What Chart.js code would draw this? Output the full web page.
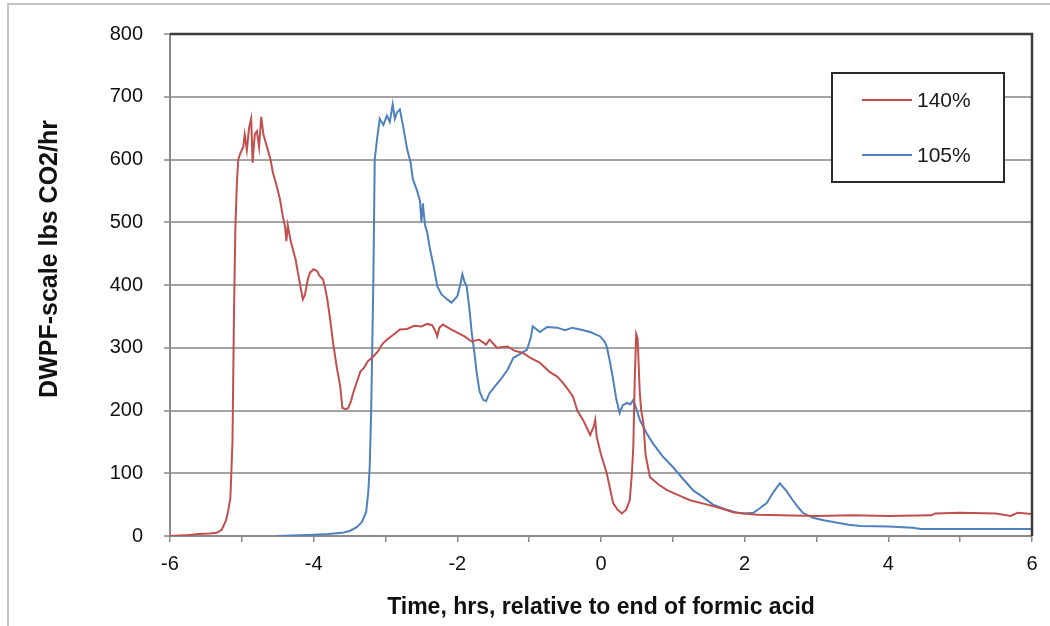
<!DOCTYPE html>
<html><head><meta charset="utf-8">
<script src="https://cdn.jsdelivr.net/npm/chart.js@4.4.0/dist/chart.umd.min.js"></script>
<style>html,body{margin:0;padding:0;background:#fff}#wrap{width:1050px;height:626px;position:relative}</style>
</head><body><div id="wrap"><canvas id="c" width="1050" height="626"></canvas></div>
<script>
const xTickLabels = [-6, -4, -2, 0, 2, 4, 6];
const yTickLabels = [0, 100, 200, 300, 400, 500, 600, 700, 800];
const seriesNames = ['140%', '105%'];
const xTitle = 'Time, hrs, relative to end of formic acid';
const yTitle = 'DWPF-scale lbs CO2/hr';

const redTimes = [-6.00,-5.80,-5.60,-5.45,-5.35,-5.28,-5.22,-5.19,-5.16,-5.13,-5.11,-5.09,-5.07,-5.05,-5.02,-4.98,-4.96,-4.93,-4.90,-4.87,-4.85,-4.82,-4.79,-4.76,-4.73,-4.70,-4.65,-4.60,-4.57,-4.52,-4.47,-4.43,-4.40,-4.38,-4.36,-4.32,-4.29,-4.25,-4.22,-4.18,-4.15,-4.12,-4.08,-4.05,-4.00,-3.95,-3.92,-3.87,-3.84,-3.81,-3.77,-3.73,-3.68,-3.63,-3.60,-3.55,-3.52,-3.48,-3.45,-3.40,-3.35,-3.30,-3.25,-3.17,-3.10,-3.05,-2.98,-2.90,-2.80,-2.70,-2.60,-2.50,-2.42,-2.35,-2.30,-2.28,-2.25,-2.20,-2.10,-2.00,-1.90,-1.80,-1.70,-1.60,-1.55,-1.45,-1.30,-1.20,-1.09,-1.00,-0.85,-0.72,-0.61,-0.53,-0.45,-0.39,-0.33,-0.25,-0.15,-0.10,-0.08,-0.06,0.00,0.08,0.17,0.23,0.29,0.35,0.40,0.43,0.45,0.47,0.49,0.51,0.54,0.56,0.59,0.62,0.68,0.80,0.92,1.10,1.24,1.48,1.70,1.84,2.00,2.17,2.50,3.00,3.50,4.00,4.60,4.65,5.00,5.50,5.70,5.80,6.00];
const redValues = [0,1,3,4,5,10,25,40,60,150,350,490,560,600,610,620,640,615,650,665,595,640,645,620,668,640,620,600,580,560,537,510,494,470,495,470,457,440,420,395,377,385,410,420,425,422,415,409,395,377,345,308,270,238,204,202,204,215,228,245,262,268,278,286,295,305,313,320,329,330,335,334,338,336,325,318,332,337,330,324,318,310,313,305,313,300,302,295,292,285,276,262,254,244,232,222,200,185,161,175,185,158,130,100,52,42,36,42,57,100,143,250,322,315,228,200,180,130,94,82,73,64,57,50,43,38,36,34,33,32,33,32,33,36,37,36,32,37,35];

const blueTimes = [-4.50,-4.00,-3.80,-3.60,-3.50,-3.40,-3.33,-3.27,-3.24,-3.22,-3.20,-3.17,-3.15,-3.12,-3.08,-3.03,-2.98,-2.94,-2.90,-2.87,-2.84,-2.80,-2.75,-2.70,-2.65,-2.62,-2.56,-2.52,-2.50,-2.48,-2.45,-2.42,-2.38,-2.33,-2.28,-2.22,-2.14,-2.08,-2.00,-1.96,-1.93,-1.90,-1.87,-1.83,-1.80,-1.76,-1.73,-1.69,-1.64,-1.60,-1.55,-1.48,-1.40,-1.30,-1.22,-1.10,-1.03,-0.98,-0.95,-0.85,-0.75,-0.61,-0.50,-0.40,-0.29,-0.15,-0.01,0.05,0.08,0.12,0.17,0.21,0.26,0.30,0.36,0.41,0.45,0.50,0.54,0.63,0.72,0.85,1.00,1.15,1.28,1.42,1.56,1.72,1.89,2.00,2.12,2.22,2.31,2.40,2.49,2.58,2.67,2.75,2.81,2.95,3.10,3.29,3.45,3.61,4.00,4.34,4.45,5.00,6.00];
const blueValues = [0,2,3,5,8,14,22,38,70,110,196,400,600,630,665,655,670,660,688,665,675,680,650,617,595,569,550,534,500,530,495,484,457,430,398,385,377,372,382,400,417,405,398,360,324,290,260,230,217,215,228,238,249,265,284,292,297,315,334,325,333,332,328,332,329,325,318,310,302,280,249,220,196,208,212,210,217,200,185,165,148,128,110,90,73,62,50,43,37,36,37,45,53,70,84,72,57,45,37,29,25,21,18,16,15,13,11,11,11];

const redColor = '#C0504D';
const blueColor = '#4F81BD';
const FONT = '"Liberation Sans", Arial, sans-serif';

const pairs = (ts, vs) => ts.map((t, i) => ({x: t, y: vs[i]}));

const framePlugin = {
  id: 'frame',
  beforeDraw(chart) {
    const ctx = chart.ctx;
    ctx.save();
    ctx.fillStyle = '#fff';
    ctx.fillRect(0, 0, chart.width, chart.height);
    ctx.strokeStyle = '#c4c4c4';
    ctx.lineWidth = 2;
    ctx.beginPath();
    ctx.moveTo(8, chart.height);
    ctx.lineTo(8, 4);
    ctx.lineTo(chart.width, 4);
    ctx.stroke();
    ctx.restore();
  },
  afterDraw(chart) {
    const ctx = chart.ctx;
    const a = chart.chartArea;
    ctx.save();
    ctx.strokeStyle = '#3a3a3a';
    ctx.lineWidth = 2.5;
    ctx.beginPath();
    ctx.moveTo(a.left, a.top);
    ctx.lineTo(a.right, a.top);
    ctx.lineTo(a.right, a.bottom);
    ctx.stroke();
    ctx.fillStyle = '#111';
    ctx.font = 'bold 25px ' + FONT;
    ctx.textAlign = 'center';
    ctx.textBaseline = 'middle';
    ctx.translate(50, 259);
    ctx.rotate(-Math.PI / 2);
    ctx.fillText(yTitle, 0, 0);
    ctx.restore();
    ctx.save();
    const lx = 832, ly = 73, lw = 172, lh = 109;
    ctx.fillStyle = '#fff';
    ctx.fillRect(lx, ly, lw, lh);
    ctx.strokeStyle = '#2a2a2a';
    ctx.lineWidth = 2;
    ctx.strokeRect(lx, ly, lw, lh);
    const rows = [100, 155];
    chart.data.datasets.forEach((ds, i) => {
      ctx.strokeStyle = ds.borderColor;
      ctx.lineWidth = 2;
      ctx.beginPath();
      ctx.moveTo(862, rows[i]);
      ctx.lineTo(912, rows[i]);
      ctx.stroke();
      ctx.fillStyle = '#1a1a1a';
      ctx.font = '21px ' + FONT;
      ctx.textAlign = 'left';
      ctx.textBaseline = 'middle';
      ctx.fillText(ds.label, 917, rows[i] + 1);
    });
    ctx.restore();
  }
};

new Chart(document.getElementById('c'), {
  type: 'line',
  data: {
    datasets: [
      {label: seriesNames[0], data: pairs(redTimes, redValues), borderColor: redColor, borderWidth: 2, pointRadius: 0, tension: 0, fill: false},
      {label: seriesNames[1], data: pairs(blueTimes, blueValues), borderColor: blueColor, borderWidth: 2, pointRadius: 0, tension: 0, fill: false}
    ]
  },
  options: {
    responsive: false,
    animation: false,
    devicePixelRatio: 1,
    layout: {padding: {left: 0, right: 18, top: 34, bottom: 0}},
    plugins: {legend: {display: false}, tooltip: {enabled: false}},
    scales: {
      x: {
        type: 'linear', min: -6, max: 6,
        ticks: {
          stepSize: 1, autoSkip: false, maxRotation: 0, padding: 10,
          color: '#111', font: {family: FONT, size: 20},
          callback: v => xTickLabels.includes(v) ? String(v) : ''
        },
        grid: {drawOnChartArea: false, drawTicks: true, tickLength: 6, color: '#8a8a8a', lineWidth: 1.5},
        border: {color: '#8a8a8a', width: 2},
        title: {display: true, text: xTitle, color: '#111', font: {family: FONT, size: 23, weight: 'bold'}, padding: {top: 0, bottom: 5}},
        afterFit: s => { s.height = 90; }
      },
      y: {
        min: 0, max: 800,
        ticks: {
          stepSize: 100, padding: 21, color: '#111', font: {family: FONT, size: 20},
          callback: v => yTickLabels.includes(v) ? String(v) : ''
        },
        grid: {color: '#a4a4a4', lineWidth: 2, drawTicks: true, tickLength: 6},
        border: {color: '#8a8a8a', width: 2},
        afterFit: s => { s.width = 170; }
      }
    }
  },
  plugins: [framePlugin]
});
</script>
</body></html>
